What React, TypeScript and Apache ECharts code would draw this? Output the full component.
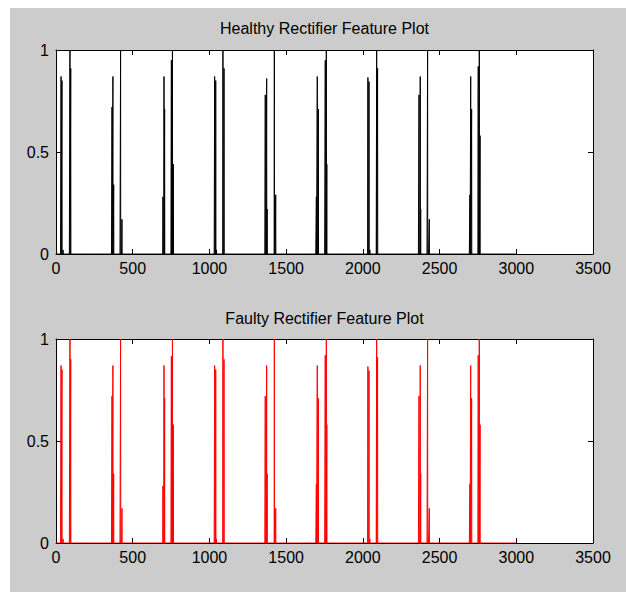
import React, { useEffect, useRef } from "react";
import * as echarts from "echarts";

const titles = ["Healthy Rectifier Feature Plot", "Faulty Rectifier Feature Plot"];
const signalLength = 3000;

// Non-zero samples of the healthy feature signal (sample index, value)
const healthyX = [
  33, 39, 46, 91, 96,
  365, 371, 376, 421, 430,
  697, 704, 708, 752, 759, 765,
  1034, 1041, 1046, 1088, 1095,
  1364, 1373, 1376, 1423, 1432,
  1697, 1703, 1710, 1755, 1762, 1765,
  2033, 2040, 2046, 2090, 2096,
  2366, 2374, 2377, 2422, 2433,
  2698, 2703, 2709, 2752, 2759, 2764,
];
const healthyY = [
  0.87, 0.85, 0.02, 1.0, 0.91,
  0.72, 0.87, 0.34, 1.0, 0.17,
  0.28, 0.87, 0.71, 0.95, 1.0, 0.44,
  0.87, 0.85, 0.02, 1.0, 0.91,
  0.78, 0.86, 0.22, 1.0, 0.29,
  0.28, 0.87, 0.71, 0.95, 1.0, 0.44,
  0.865, 0.845, 0.02, 1.0, 0.91,
  0.78, 0.87, 0.22, 1.0, 0.17,
  0.29, 0.87, 0.71, 0.92, 1.0, 0.58,
];

// Non-zero samples of the faulty feature signal (sample index, value)
const faultyX = [
  33, 39, 46, 91, 96,
  365, 371, 376, 421, 430,
  697, 704, 708, 752, 759, 765,
  1034, 1041, 1046, 1088, 1095,
  1364, 1373, 1376, 1423, 1432,
  1697, 1703, 1710, 1755, 1762, 1765,
  2033, 2040, 2046, 2090, 2096,
  2366, 2374, 2377, 2422, 2433,
  2698, 2703, 2709, 2752, 2759, 2764,
];
const faultyY = [
  0.87, 0.85, 0.02, 1.0, 0.9,
  0.72, 0.87, 0.34, 1.0, 0.17,
  0.28, 0.87, 0.71, 0.915, 1.0, 0.58,
  0.87, 0.85, 0.02, 1.0, 0.9,
  0.72, 0.87, 0.34, 1.0, 0.17,
  0.29, 0.87, 0.71, 0.92, 1.0, 0.58,
  0.865, 0.845, 0.02, 1.0, 0.91,
  0.72, 0.87, 0.34, 1.0, 0.17,
  0.29, 0.87, 0.71, 0.92, 1.0, 0.58,
];

const FONT = "'Liberation Sans', Arial, sans-serif";

function buildSignal(xs: number[], ys: number[]) {
  const vals: number[] = new Array(signalLength + 1).fill(0);
  xs.forEach((x, i) => {
    vals[x] = ys[i];
  });
  return vals.map((v, i) => [i, v]);
}

const plainLabel = (v: number) => String(v);

function xAxes(gridIndex: number) {
  const base = {
    gridIndex,
    type: "value",
    min: 0,
    max: 3500,
    interval: 500,
    splitLine: { show: false },
    axisLine: { show: true, onZero: false, lineStyle: { color: "#000", width: 1 } },
    axisTick: { show: true, inside: true, length: 5, lineStyle: { color: "#000", width: 1 } },
  };
  return [
    {
      ...base,
      position: "bottom",
      axisLabel: { show: true, color: "#000", fontSize: 16, fontFamily: FONT, margin: 6, formatter: plainLabel },
    },
    { ...base, position: "top", axisLabel: { show: false } },
  ];
}

function yAxes(gridIndex: number) {
  const base = {
    gridIndex,
    type: "value",
    min: 0,
    max: 1,
    interval: 0.5,
    splitLine: { show: false },
    axisLine: { show: true, onZero: false, lineStyle: { color: "#000", width: 1 } },
    axisTick: { show: true, inside: true, length: 5, lineStyle: { color: "#000", width: 1 } },
  };
  return [
    {
      ...base,
      position: "left",
      axisLabel: { show: true, color: "#000", fontSize: 16, fontFamily: FONT, margin: 7, formatter: plainLabel },
    },
    { ...base, position: "right", axisLabel: { show: false } },
  ];
}

export default function App() {
  const ref = useRef<HTMLDivElement>(null);

  useEffect(() => {
    if (!ref.current) return;
    const chart = echarts.init(ref.current, undefined, { renderer: "svg" });
    const option: any = {
      animation: false,
      backgroundColor: "#cccccc",
      grid: [
        { left: 56, top: 50, width: 537, height: 204, show: true, backgroundColor: "#ffffff", borderWidth: 0 },
        { left: 56, top: 339, width: 537, height: 204, show: true, backgroundColor: "#ffffff", borderWidth: 0 },
      ],
      xAxis: [...xAxes(0), ...xAxes(1)],
      yAxis: [...yAxes(0), ...yAxes(1)],
      series: [
        {
          name: "Healthy",
          type: "line",
          xAxisIndex: 0,
          yAxisIndex: 0,
          data: buildSignal(healthyX, healthyY),
          showSymbol: false,
          symbol: "none",
          lineStyle: { color: "#000000", width: 1 },
          itemStyle: { color: "#000000" },
          clip: true,
        },
        {
          name: "Faulty",
          type: "line",
          xAxisIndex: 2,
          yAxisIndex: 2,
          data: buildSignal(faultyX, faultyY),
          showSymbol: false,
          symbol: "none",
          lineStyle: { color: "#ff0000", width: 1 },
          itemStyle: { color: "#ff0000" },
          clip: true,
        },
      ],
      graphic: [
        { type: "rect", shape: { x: 0, y: 0, width: 10, height: 592 }, style: { fill: "#ffffff" }, silent: true },
        { type: "rect", shape: { x: 0, y: 0, width: 626, height: 8 }, style: { fill: "#ffffff" }, silent: true },
        {
          type: "text",
          x: 324.5,
          y: 28,
          style: { text: titles[0], fill: "#000", fontSize: 16, fontFamily: FONT, align: "center", verticalAlign: "middle" },
        },
        {
          type: "text",
          x: 324.5,
          y: 318,
          style: { text: titles[1], fill: "#000", fontSize: 16, fontFamily: FONT, align: "center", verticalAlign: "middle" },
        },
      ],
    };
    chart.setOption(option);
    return () => chart.dispose();
  }, []);

  return (
    <div
      ref={ref}
      style={{ position: "fixed", left: 0, top: 0, width: 626, height: 592 }}
    />
  );
}
